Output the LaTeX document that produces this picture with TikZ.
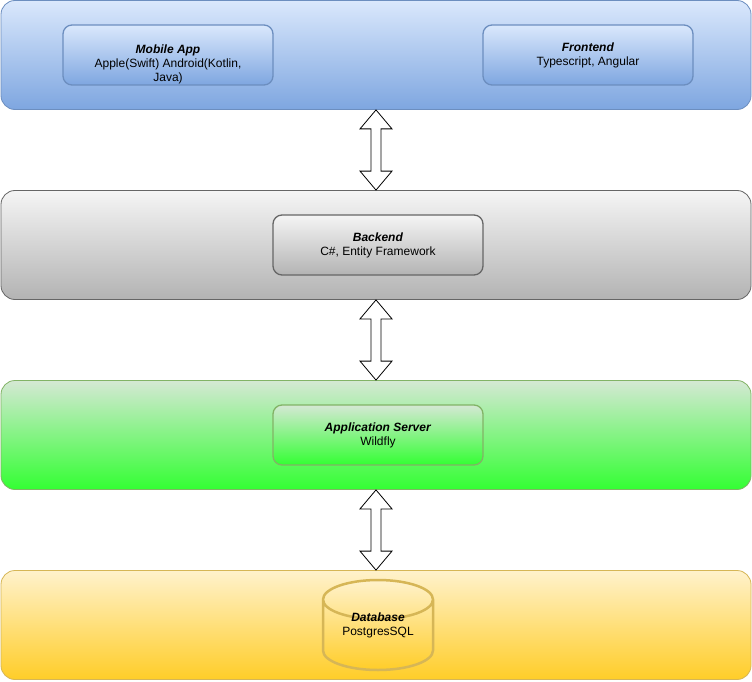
\documentclass[tikz,border=0pt]{standalone}
\usepackage{fontspec}
\setmainfont{Liberation Sans}
\usetikzlibrary{shapes.geometric,calc}
\definecolor{blueTop}{HTML}{DAE8FC}
\definecolor{blueBot}{HTML}{7EA6E0}
\definecolor{blueLine}{HTML}{6C8EBF}
\definecolor{grayTop}{HTML}{F5F5F5}
\definecolor{grayBot}{HTML}{B3B3B3}
\definecolor{grayLine}{HTML}{666666}
\definecolor{greenTop}{HTML}{D5E8D4}
\definecolor{greenBot}{HTML}{33FF33}
\definecolor{greenLine}{HTML}{82B366}
\definecolor{yellowTop}{HTML}{FFF2CC}
\definecolor{yellowBot}{HTML}{FFCD28}
\definecolor{yellowLine}{HTML}{D6B656}
\tikzstyle{txt} = [font=\fontsize{12}{14}\selectfont, align=center, text centered]
\tikzstyle{layer} = [draw, rectangle, rounded corners=14pt, minimum width=750pt, minimum height=109pt, line width=0.8pt]
\tikzstyle{tech} = [draw, rectangle, rounded corners=9pt, minimum width=210pt, minimum height=60pt, line width=1.3pt, txt]
\tikzstyle{store} = [draw, cylinder, shape border rotate=90, aspect=0.5, minimum width=110pt, minimum height=90pt, line width=2.5pt, txt]
\tikzstyle{bluefill} = [top color=blueTop, bottom color=blueBot, draw=blueLine]
\tikzstyle{grayfill} = [top color=grayTop, bottom color=grayBot, draw=grayLine]
\tikzstyle{greenfill} = [top color=greenTop, bottom color=greenBot, draw=greenLine]
\tikzstyle{yellowfill} = [top color=yellowTop, bottom color=yellowBot, draw=yellowLine]
\tikzstyle{fatarrow} = [draw=black, fill=white, line width=0.8pt, to path={let \p1=(\tikztostart), \p2=(\tikztotarget) in
    (\x1,\y1) -- ++(16pt,-19pt) -- ++(-11pt,0pt) -- (\x1+5pt,\y2+19pt) -- ++(11pt,0pt) -- (\x1,\y2)
    -- ++(-16pt,19pt) -- ++(11pt,0pt) -- (\x1-5pt,\y1-19pt) -- ++(-11pt,0pt) -- cycle}]
\begin{document}
\begin{tikzpicture}[x=1pt, y=-1pt]
    \useasboundingbox (0,0) rectangle (752,682);
    % layers
    \draw (376,55)  node[layer, bluefill]   (client) {};
    \draw (376,245) node[layer, grayfill]   (back) {};
    \draw (376,435) node[layer, greenfill]  (server) {};
    \draw (376,625) node[layer, yellowfill] (data) {};
    % components
    \draw (168,55)  node[tech, bluefill, label={[txt, yshift=-9pt]center:\textbf{\textit{Mobile App}}\\Apple(Swift) Android(Kotlin,\\Java)}] (M) {};
    \draw (588,55)  node[tech, bluefill]  (F) {\textbf{\textit{Frontend}}\\Typescript, Angular};
    \draw (378,245) node[tech, grayfill]  (B) {\textbf{\textit{Backend}}\\C\#, Entity Framework};
    \draw (378,435) node[tech, greenfill] (S) {\textbf{\textit{Application Server}}\\Wildfly};
    \draw (378,625) node[store, yellowfill, anchor=shape center] (D) {\phantom{\textbf{\textit{Database}}}\\\phantom{PostgresSQL}};
    \draw (378,625) node[txt] (Dtext) {\textbf{\textit{Database}}\\PostgresSQL};
    % links between layers
    \draw[fatarrow] (client.south) to (back.north);
    \draw[fatarrow] (back.south) to (server.north);
    \draw[fatarrow] (server.south) to (data.north);
\end{tikzpicture}
\end{document}
